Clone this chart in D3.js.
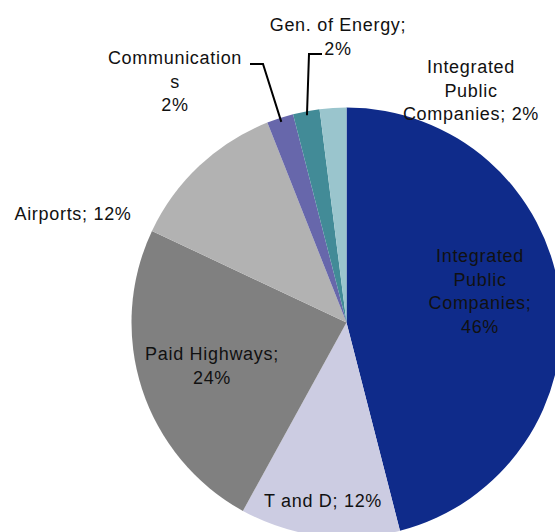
<!DOCTYPE html>
<html><head><meta charset="utf-8">
<script src="https://cdn.jsdelivr.net/npm/d3@7"></script>
<style>body{margin:0;background:#fff}svg{display:block}text{font-family:"Liberation Sans",Arial,sans-serif;font-size:18px;fill:#111;letter-spacing:0.7px}</style>
</head><body>
<svg id="c" width="555" height="532"></svg>
<script>
const categories = ["Integrated Public Companies","T and D","Paid Highways","Airports","Communications","Gen. of Energy","Integrated Public Companies"];
const values = [46,12,24,12,2,2,2];
const colors = ["#0F2B8A","#CCCCE2","#808080","#B2B2B2","#6767AB","#428B97","#9AC5CD"];
const labelLines = [
  ["Integrated","Public","Companies;","46%"],
  ["T and D;  12%"],
  ["Paid Highways;","24%"],
  ["Airports; 12%"],
  ["Communication","s","2%"],
  ["Gen. of Energy;","2%"],
  ["Integrated","Public","Companies; 2%"]
];
const labelPos = [[480,262],[323,507],[212,360],[73,220],[175,64],[338,31],[471,73]];
const leaders = [null,null,null,null,[[250,64],[263,64]],[[322,54],[309,54]],null];

const svg = d3.select("#c");
const cx = 346.5, cy = 322.5, r = 215;
const pie = d3.pie().sort(null).value(d=>d);
const arcs = pie(values);
const arc = d3.arc().innerRadius(0).outerRadius(r);
const g = svg.append("g").attr("transform",`translate(${cx},${cy})`);
g.selectAll("path").data(arcs).join("path").attr("d",arc).attr("fill",(d,i)=>colors[i]);

// leader lines
arcs.forEach((a,i)=>{
  if(!leaders[i]) return;
  const mid = (a.startAngle+a.endAngle)/2;
  const p = [cx + Math.sin(mid)*(r-4), cy - Math.cos(mid)*(r-4)];
  const pts = leaders[i].concat([p]);
  svg.append("path").attr("d",d3.line()(pts)).attr("fill","none").attr("stroke","#000").attr("stroke-width",2);
});

labelLines.forEach((lines,i)=>{
  const t = svg.append("text").attr("text-anchor","middle");
  lines.forEach((l,j)=>{
    t.append("tspan").attr("x",labelPos[i][0]).attr("y",labelPos[i][1]+j*23.5).text(l);
  });
});
</script>
</body></html>
